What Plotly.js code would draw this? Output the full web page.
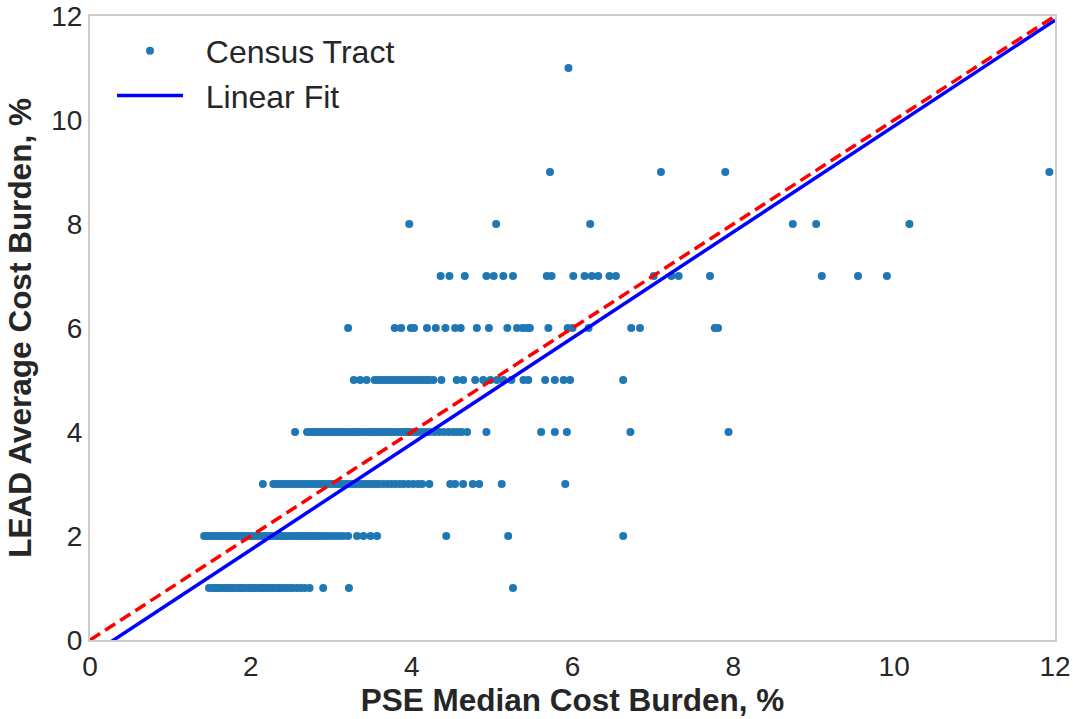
<!DOCTYPE html>
<html>
<head>
<meta charset="utf-8">
<script src="https://cdn.plot.ly/plotly-3.0.1.min.js"></script>
<style>html,body{margin:0;padding:0;background:#fff;}#chart{width:1073px;height:719px;}</style>
</head>
<body>
<div id="chart"></div>
<script>
// LEAD average cost burden levels (y) and the PSE median values (x) of tracts at each level
const burdenLevels = [1, 2, 3, 4, 5, 6, 7, 8, 9, 11];
const pseAt1 = [1.48,1.52,1.55,1.58,1.61,1.64,1.68,1.71,1.74,1.77,1.80,1.84,1.87,1.90,1.93,1.97,2.00,2.03,2.06,2.10,2.13,2.16,2.19,2.23,2.26,2.29,2.33,2.36,2.40,2.44,2.48,2.52,2.57,2.62,2.67,2.73,2.90,3.22,5.26];
const pseAt2 = [1.42,1.46,1.50,1.54,1.58,1.62,1.66,1.70,1.74,1.78,1.82,1.86,1.90,1.94,1.98,2.02,2.06,2.10,2.14,2.18,2.22,2.26,2.30,2.34,2.38,2.42,2.46,2.50,2.54,2.58,2.62,2.66,2.70,2.74,2.78,2.82,2.86,2.90,2.95,3.00,3.05,3.10,3.15,3.21,3.32,3.40,3.49,3.57,4.43,5.20,6.63];
const pseAt3 = [2.15,2.28,2.32,2.36,2.40,2.44,2.48,2.52,2.56,2.60,2.64,2.68,2.72,2.76,2.80,2.84,2.88,2.92,2.96,3.00,3.04,3.08,3.12,3.16,3.20,3.24,3.28,3.32,3.36,3.40,3.44,3.48,3.52,3.56,3.60,3.65,3.70,3.75,3.80,3.85,3.90,3.96,4.02,4.08,4.13,4.22,4.48,4.54,4.64,4.76,4.84,5.12,5.91];
const pseAt4 = [2.55,2.70,2.74,2.78,2.82,2.86,2.90,2.94,2.98,3.02,3.06,3.10,3.14,3.18,3.22,3.26,3.30,3.34,3.38,3.42,3.46,3.50,3.54,3.58,3.62,3.66,3.70,3.74,3.78,3.82,3.86,3.90,3.94,3.98,4.02,4.07,4.12,4.17,4.22,4.28,4.34,4.40,4.46,4.52,4.57,4.62,4.69,4.93,5.61,5.78,5.93,6.72,7.94];
const pseAt5 = [3.28,3.36,3.44,3.54,3.58,3.62,3.66,3.70,3.74,3.78,3.82,3.86,3.90,3.94,3.98,4.02,4.06,4.10,4.14,4.18,4.22,4.27,4.37,4.56,4.64,4.79,4.89,4.98,5.06,5.14,5.24,5.39,5.45,5.66,5.78,5.89,5.97,6.63];
const pseAt6 = [3.21,3.79,3.87,3.99,4.03,4.19,4.30,4.42,4.54,4.61,4.81,4.96,5.19,5.31,5.38,5.43,5.47,5.70,5.94,6.00,6.20,6.73,6.84,7.77,7.81];
const pseAt7 = [4.36,4.47,4.66,4.93,5.02,5.14,5.26,5.68,5.74,6.01,6.15,6.24,6.32,6.46,6.54,7.01,7.23,7.32,7.71,9.10,9.55,9.91];
const pseAt8 = [3.97,5.05,6.22,8.74,9.03,10.19];
const pseAt9 = [5.72,7.10,7.90,11.93];
const pseAt11 = [5.95];
const pseByLevel = [pseAt1, pseAt2, pseAt3, pseAt4, pseAt5, pseAt6, pseAt7, pseAt8, pseAt9, pseAt11];

// Linear fit and 1:1 reference line
const fitX = [0, 12];
const fitY = [-0.30, 11.92];
const refX = [0, 12];
const refY = [0, 12];

const tickVals = [0, 2, 4, 6, 8, 10, 12];
const tickText = ['0', '2', '4', '6', '8', '10', '12'];

const tractX = [], tractY = [];
pseByLevel.forEach((arr, i) => arr.forEach(v => { tractX.push(v); tractY.push(burdenLevels[i]); }));

const FONT = 'Liberation Sans, Arial, sans-serif';
const TXT = '#262626';
const NB = '\u00A0\u00A0';

const traces = [
  {x: tractX, y: tractY, type: 'scatter', mode: 'markers', name: NB + 'Census Tract', legendgroup: 'a',
   marker: {color: '#1f77b4', size: 8, line: {width: 0}}},
  {x: fitX, y: fitY, type: 'scatter', mode: 'lines', name: NB + 'Linear Fit', legendgroup: 'b',
   line: {color: '#0000ff', width: 3.5}},
  {x: refX, y: refY, type: 'scatter', mode: 'lines', name: '1:1', showlegend: false,
   line: {color: '#ff0000', width: 3.5, dash: '12px,6px'}}
];

const axisCommon = {
  range: [0, 12], tickvals: tickVals, ticktext: tickText, showgrid: false, zeroline: false,
  showline: true, mirror: true, linecolor: '#cccccc', linewidth: 2, ticks: '',
  ticklabeloverflow: 'allow',
  tickfont: {family: FONT, size: 28, color: TXT}
};

const layout = {
  width: 1073, height: 719,
  margin: {l: 90, r: 18, t: 16, b: 79},
  paper_bgcolor: '#ffffff', plot_bgcolor: '#ffffff',
  font: {family: FONT, color: TXT},
  xaxis: Object.assign({}, axisCommon, {
    title: {text: 'PSE Median Cost Burden, %', font: {family: FONT, size: 31.5, color: TXT, weight: 'bold'}, standoff: 8}
  }),
  yaxis: Object.assign({}, axisCommon, {
    title: {text: 'LEAD Average Cost Burden, %', font: {family: FONT, size: 31.5, color: TXT, weight: 'bold'}, standoff: 10}
  }),
  showlegend: true,
  legend: {x: 0.0228, y: 0.988, xanchor: 'left', yanchor: 'top', bgcolor: 'rgba(0,0,0,0)',
           font: {family: FONT, size: 32, color: TXT}, traceorder: 'grouped', tracegroupgap: 0, itemwidth: 66}
};

Plotly.newPlot('chart', traces, layout, {displayModeBar: false, staticPlot: true});
</script>
</body>
</html>
